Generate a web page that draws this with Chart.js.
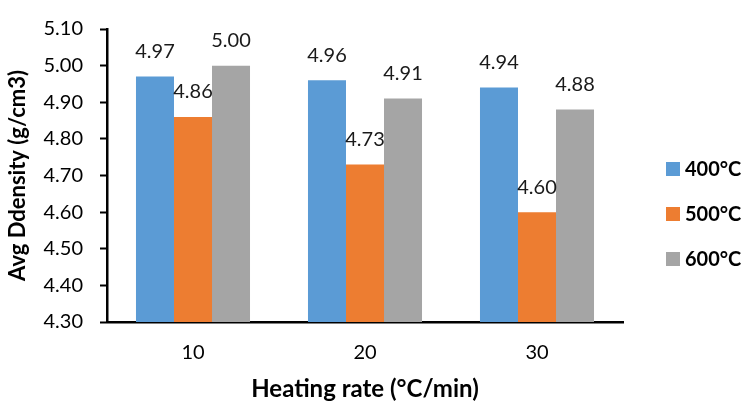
<!DOCTYPE html>
<html>
<head>
<meta charset="utf-8">
<script src="https://cdn.jsdelivr.net/npm/chart.js@4/dist/chart.umd.min.js"></script>
<style>
  html, body { margin: 0; padding: 0; background: #ffffff; }
  #wrap { width: 743px; height: 404px; position: relative; }
</style>
</head>
<body>
<div id="wrap"><canvas id="chart" width="743" height="404"></canvas></div>
<script>
// Heating rate categories (°C/min)
const heatingRates = ['10', '20', '30'];

// Average density (g/cm3) per calcination temperature
const temp400 = [4.97, 4.96, 4.94];
const temp500 = [4.86, 4.73, 4.60];
const temp600 = [5.00, 4.91, 4.88];

const seriesNames = ['400°C', '500°C', '600°C'];
const seriesColors = ['#5B9BD5', '#ED7D31', '#A5A5A5'];

const yTitle = 'Avg Ddensity (g/cm3)';
const xTitle = 'Heating rate (°C/min)';

const FONT = 'Lato, "Open Sans", "DejaVu Sans", sans-serif';

// Value labels above every bar
const barValueLabels = {
  id: 'barValueLabels',
  afterDatasetsDraw(chart) {
    const ctx = chart.ctx;
    ctx.save();
    ctx.font = '20px ' + FONT;
    ctx.fillStyle = '#1a1a1a';
    ctx.textAlign = 'center';
    ctx.textBaseline = 'middle';
    chart.data.datasets.forEach((ds, di) => {
      const meta = chart.getDatasetMeta(di);
      meta.data.forEach((bar, i) => {
        ctx.fillText(ds.data[i].toFixed(2), bar.x, bar.y - 25);
      });
    });
    ctx.restore();
  }
};

// Vertical legend placed to the right of the plot
const sideLegend = {
  id: 'sideLegend',
  afterDraw(chart) {
    const ctx = chart.ctx;
    const area = chart.chartArea;
    const x0 = area.right + 43;
    const yMid = 214;
    const gap = 45;
    const n = chart.data.datasets.length;
    ctx.save();
    ctx.font = 'bold 20px ' + FONT;
    ctx.textAlign = 'left';
    ctx.textBaseline = 'middle';
    chart.data.datasets.forEach((ds, i) => {
      const cy = yMid + (i - (n - 1) / 2) * gap;
      ctx.fillStyle = ds.backgroundColor;
      ctx.fillRect(x0, cy - 7, 14, 14);
      ctx.fillStyle = '#000000';
      ctx.fillText(ds.label, x0 + 19, cy + 1);
    });
    ctx.restore();
  }
};

const seriesData = [temp400, temp500, temp600];

new Chart(document.getElementById('chart'), {
  type: 'bar',
  data: {
    labels: heatingRates,
    datasets: seriesData.map((vals, i) => ({
      label: seriesNames[i],
      data: vals,
      backgroundColor: seriesColors[i],
      borderWidth: 0,
      categoryPercentage: 0.663,
      barPercentage: 1.0
    }))
  },
  options: {
    responsive: false,
    animation: false,
    layout: { padding: { top: 16, right: 120, bottom: 0, left: 0 } },
    plugins: {
      legend: { display: false },
      tooltip: { enabled: false }
    },
    scales: {
      x: {
        grid: { display: true, drawOnChartArea: false, drawTicks: false },
        border: { display: true, color: '#000000', width: 2.5 },
        ticks: { color: '#000000', font: { family: FONT, size: 20 }, padding: 19 },
        title: {
          display: true,
          text: xTitle,
          color: '#000000',
          font: { family: FONT, size: 24, weight: 'bold' },
          padding: { top: 0, bottom: 0 }
        },
        afterFit(scale) { scale.height = 82; }
      },
      y: {
        min: 4.3,
        max: 5.1,
        grid: {
          display: true,
          drawOnChartArea: false,
          drawTicks: true,
          tickLength: 7,
          tickWidth: 2,
          color: '#000000'
        },
        border: { display: true, color: '#000000', width: 2.5 },
        ticks: {
          stepSize: 0.1,
          color: '#000000',
          font: { family: FONT, size: 20 },
          padding: 17,
          callback: (v) => Number(v).toFixed(2)
        },
        title: {
          display: true,
          text: yTitle,
          color: '#000000',
          font: { family: FONT, size: 22, weight: 'bold' },
          padding: { top: 5, bottom: 4 }
        },
        afterFit(scale) { scale.width = 107; }
      }
    }
  },
  plugins: [barValueLabels, sideLegend]
});
</script>
</body>
</html>
